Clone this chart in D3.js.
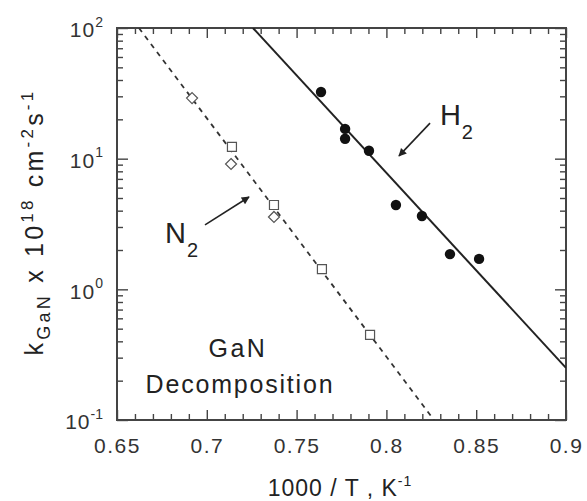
<!DOCTYPE html>
<html>
<head>
<meta charset="utf-8">
<title>GaN decomposition</title>
<script src="https://cdn.jsdelivr.net/npm/d3@7"></script>
<style>
  body { margin: 0; background: #fff; }
  svg { font-family: "Liberation Sans", Arial, Helvetica, sans-serif; }
</style>
</head>
<body>
<svg id="chart" width="587" height="501"></svg>
<script>
// data (x = 1000/T in 1/K, y = k_GaN x 1e18 cm-2 s-1)
var h2X = [0.7636, 0.7770, 0.7770, 0.7903, 0.8053, 0.8198, 0.8354, 0.8516];
var h2Y = [32.4, 16.9, 14.2, 11.5, 4.42, 3.64, 1.86, 1.71];

var n2DiamondX = [0.6918, 0.7135, 0.7374];
var n2DiamondY = [29.1, 9.1, 3.58];
var n2SquareX = [0.7140, 0.7374, 0.7641, 0.7909];
var n2SquareY = [12.3, 4.42, 1.43, 0.448];

// fitted Arrhenius lines (end points)
var h2FitX = [0.7257, 0.9];
var h2FitY = [100, 0.2506];
var n2FitX = [0.6622, 0.8265];
var n2FitY = [100, 0.1];

var xTicks = [0.65, 0.7, 0.75, 0.8, 0.85, 0.9];
var xTickLabels = ["0.65", "0.7", "0.75", "0.8", "0.85", "0.9"];
var yTicks = [0.1, 1, 10, 100];
var yTickExp = ["-1", "0", "1", "2"];

var margin = {left: 117, top: 28, right: 21, bottom: 81};
var W = 587, H = 501;
var svg = d3.select("#chart");

var x = d3.scaleLinear().domain([0.65, 0.9]).range([margin.left, W - margin.right]);
var y = d3.scaleLog().domain([0.1, 100]).range([H - margin.bottom, margin.top]);

var ink = "#222";
var x0 = x.range()[0], x1 = x.range()[1], y0 = y.range()[0], y1 = y.range()[1];

// minor tick values
var xMinor = d3.range(66, 90).map(function(d){ return d / 100; })
  .filter(function(d){ return Math.round(d * 100) % 5 != 0; });
var yMinor = [];
[0.1, 1, 10].forEach(function(dec){
  for (var m = 2; m <= 9; m++) yMinor.push(dec * m);
});

function tickStyle(g) {
  g.select(".domain").remove();
  g.selectAll(".tick line").attr("stroke", "#444").attr("stroke-width", 1.4);
}

// bottom & top axes
svg.append("g").attr("transform", "translate(0," + y0 + ")")
  .call(d3.axisBottom(x).tickValues(xTicks).tickSizeInner(-10).tickSizeOuter(0).tickPadding(18)
    .tickFormat(function(d, i){ return xTickLabels[i]; }))
  .call(tickStyle)
  .call(function(g){
    g.selectAll(".tick text").attr("font-size", 21).attr("fill", "#333")
      .attr("letter-spacing", "1.5px")
      .attr("font-family", "Liberation Sans, Arial, sans-serif");
  });
svg.append("g").attr("transform", "translate(0," + y0 + ")")
  .call(d3.axisBottom(x).tickValues(xMinor).tickSizeInner(-6).tickSizeOuter(0).tickFormat(""))
  .call(tickStyle);
svg.append("g").attr("transform", "translate(0," + y1 + ")")
  .call(d3.axisTop(x).tickValues(xTicks).tickSizeInner(-10).tickSizeOuter(0).tickFormat(""))
  .call(tickStyle);
svg.append("g").attr("transform", "translate(0," + y1 + ")")
  .call(d3.axisTop(x).tickValues(xMinor).tickSizeInner(-6).tickSizeOuter(0).tickFormat(""))
  .call(tickStyle);

// left & right axes
svg.append("g").attr("transform", "translate(" + x0 + ",0)")
  .call(d3.axisLeft(y).tickValues(yTicks).tickSizeInner(-11).tickSizeOuter(0).tickPadding(14)
    .tickFormat(""))
  .call(tickStyle)
  .call(function(g){
    var t = g.selectAll(".tick text")
      .attr("font-size", 21).attr("fill", "#333").attr("dy", "0.42em")
      .attr("font-family", "Liberation Sans, Arial, sans-serif");
    t.append("tspan").attr("letter-spacing", "1px").text("10");
    t.append("tspan").attr("font-size", 14).attr("dy", "-0.75em")
      .text(function(d){ return yTickExp[yTicks.indexOf(d)]; });
  });
svg.append("g").attr("transform", "translate(" + x0 + ",0)")
  .call(d3.axisLeft(y).tickValues(yMinor).tickSizeInner(-6).tickSizeOuter(0).tickFormat(""))
  .call(tickStyle);
svg.append("g").attr("transform", "translate(" + x1 + ",0)")
  .call(d3.axisRight(y).tickValues(yTicks).tickSizeInner(-11).tickSizeOuter(0).tickFormat(""))
  .call(tickStyle);
svg.append("g").attr("transform", "translate(" + x1 + ",0)")
  .call(d3.axisRight(y).tickValues(yMinor).tickSizeInner(-6).tickSizeOuter(0).tickFormat(""))
  .call(tickStyle);

// frame
svg.append("rect")
  .attr("x", x0).attr("y", y1).attr("width", x1 - x0).attr("height", y0 - y1)
  .attr("fill", "none").attr("stroke", "#444").attr("stroke-width", 2);

// clip for the fit lines
svg.append("clipPath").attr("id", "plotclip").append("rect")
  .attr("x", x0).attr("y", y1).attr("width", x1 - x0).attr("height", y0 - y1);

var line = d3.line().x(function(d){ return x(d[0]); }).y(function(d){ return y(d[1]); });

svg.append("path")
  .datum(d3.zip(h2FitX, h2FitY))
  .attr("clip-path", "url(#plotclip)")
  .attr("d", line).attr("fill", "none").attr("stroke", ink).attr("stroke-width", 2);

svg.append("path")
  .datum(d3.zip(n2FitX, n2FitY))
  .attr("clip-path", "url(#plotclip)")
  .attr("d", line).attr("fill", "none").attr("stroke", "#333").attr("stroke-width", 1.8)
  .attr("stroke-dasharray", "5,5");

// H2 points
svg.append("g").selectAll("circle")
  .data(d3.zip(h2X, h2Y)).join("circle")
  .attr("cx", function(d){ return x(d[0]); })
  .attr("cy", function(d){ return y(d[1]); })
  .attr("r", 5.2).attr("fill", "#111");

// N2 points
svg.append("g").selectAll("path")
  .data(d3.zip(n2SquareX, n2SquareY)).join("path")
  .attr("transform", function(d){ return "translate(" + x(d[0]) + "," + y(d[1]) + ")"; })
  .attr("d", "M-4.5,-4.5H4.5V4.5H-4.5Z")
  .attr("fill", "#fff").attr("stroke", "#555").attr("stroke-width", 1.2);
svg.append("g").selectAll("path")
  .data(d3.zip(n2DiamondX, n2DiamondY)).join("path")
  .attr("transform", function(d){ return "translate(" + x(d[0]) + "," + y(d[1]) + ")"; })
  .attr("d", "M0,-5.5L5.5,0L0,5.5L-5.5,0Z")
  .attr("fill", "#fff").attr("stroke", "#555").attr("stroke-width", 1.2);

// annotations
var arrows = [
  {from: [0.6990, 3.11], to: [0.7235, 5.09]},
  {from: [0.8243, 18.7], to: [0.8070, 10.5]}
];
svg.append("defs").append("marker")
  .attr("id", "head").attr("viewBox", "0 0 10 10").attr("refX", 9).attr("refY", 5)
  .attr("markerWidth", 10).attr("markerHeight", 8).attr("markerUnits", "userSpaceOnUse")
  .attr("orient", "auto")
  .append("path").attr("d", "M0,0L10,5L0,10Z").attr("fill", ink);
svg.append("g").selectAll("line")
  .data(arrows).join("line")
  .attr("x1", function(d){ return x(d.from[0]); })
  .attr("y1", function(d){ return y(d.from[1]); })
  .attr("x2", function(d){ return x(d.to[0]); })
  .attr("y2", function(d){ return y(d.to[1]); })
  .attr("stroke", ink).attr("stroke-width", 1.6)
  .attr("marker-end", "url(#head)");

function subLabel(px, py, main, sub) {
  var t = svg.append("text").attr("x", px).attr("y", py)
    .attr("font-size", 29).attr("fill", ink);
  t.append("tspan").text(main);
  t.append("tspan").attr("font-size", 20).attr("dy", 14).attr("dx", 1).text(sub);
}
subLabel(x(0.6767), y(2.26), "N", "2");
subLabel(x(0.8298), y(18.1), "H", "2");

svg.append("text").attr("x", x(0.7168) + 1).attr("y", y(0.303))
  .attr("text-anchor", "middle").attr("font-size", 25).attr("letter-spacing", "2.5px")
  .attr("fill", ink).text("GaN");
svg.append("text").attr("x", x(0.7168) + 3).attr("y", y(0.161))
  .attr("text-anchor", "middle").attr("font-size", 25).attr("letter-spacing", "1.8px")
  .attr("fill", ink).text("Decomposition");

// x axis title
var xt = svg.append("text").attr("x", 340).attr("y", 496)
  .attr("text-anchor", "middle").attr("font-size", 23).attr("letter-spacing", "1px")
  .attr("fill", ink);
xt.append("tspan").text("1000 / T , K");
xt.append("tspan").attr("font-size", 14).attr("dy", -10).text("-1");

// y axis title
var yt = svg.append("text")
  .attr("transform", "translate(43,222) rotate(-90)")
  .attr("text-anchor", "middle").attr("font-size", 25).attr("fill", ink);
yt.append("tspan").text("k");
yt.append("tspan").attr("font-size", 18).attr("dy", 7).text("GaN");
yt.append("tspan").attr("dy", -7).text("  x 10");
yt.append("tspan").attr("font-size", 17).attr("dy", -10).text("18");
yt.append("tspan").attr("dy", 10).text(" cm");
yt.append("tspan").attr("font-size", 17).attr("dy", -10).text("-2");
yt.append("tspan").attr("dy", 10).text("s");
yt.append("tspan").attr("font-size", 17).attr("dy", -10).text("-1");
var len = yt.node().getComputedTextLength();
var nch = yt.text().length;
if (len < 270) yt.attr("letter-spacing", ((270 - len) / nch).toFixed(2) + "px");
</script>
</body>
</html>
